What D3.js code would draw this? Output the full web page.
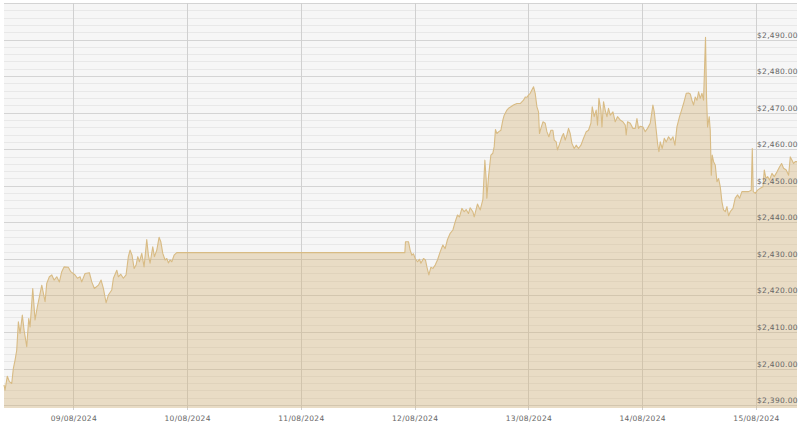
<!DOCTYPE html>
<html>
<head>
<meta charset="utf-8">
<script src="https://cdn.jsdelivr.net/npm/d3@7/dist/d3.min.js"></script>
<style>
  html, body { margin: 0; padding: 0; background: #ffffff; }
  svg { display: block; }
  .ylab text, .xlab text { font-family: "DejaVu Sans", Verdana, sans-serif; font-size: 7.5px; fill: #666; letter-spacing: 0.3px; }
</style>
</head>
<body>
<svg id="chart" width="800" height="428"></svg>
<script>
// ---- data (time of day, price in USD) per calendar day ----
const aug08 = [
  ["09:22",2395.5],["09:35",2394.1],["10:04",2397.9],["10:30",2396.4],["11:00",2395.9],
  ["11:20",2400.0],["11:42",2402.3],["12:03",2405.0],["12:24",2412.8],["12:45",2409.6],
  ["13:14",2414.6],["13:36",2410.5],["14:10",2406.0],["14:35",2413.7],["14:52",2411.4],
  ["15:26",2421.9],["15:55",2413.3],["16:24",2416.9],["16:50",2419.6],["17:20",2422.8],
  ["18:02",2418.3],["18:23",2423.3],["18:56",2425.1],["19:27",2425.6],["19:56",2424.2],
  ["20:30",2425.1],["21:03",2423.7],["21:33",2426.5],["22:02",2427.8],["22:57",2427.7],
  ["23:27",2426.5]
];
const aug09 = [
  ["00:22",2425.6],["00:51",2424.7],["01:25",2425.1],["01:46",2423.7],["02:28",2426.0],
  ["03:23",2426.2],["03:53",2423.7],["04:26",2421.9],["05:17",2422.8],["05:51",2424.2],
  ["06:20",2421.9],["06:54",2418.0],["07:23",2420.1],["08:06",2421.5],["08:27",2424.7],
  ["09:10",2426.9],["09:30",2425.1],["10:00",2425.8],["10:33",2424.7],["11:07",2425.6],
  ["11:36",2430.6],["11:58",2432.4],["12:23",2431.0],["12:49",2427.4],["13:14",2428.3],
  ["13:35",2430.6],["13:56",2429.2],["14:26",2431.5],["14:55",2427.8],["15:29",2435.3],
  ["15:50",2431.0],["16:11",2428.8],["16:45",2433.3],["17:06",2430.6],["17:36",2432.4],
  ["18:05",2435.9],["18:27",2434.7],["18:52",2431.5],["19:21",2429.7],["19:43",2430.1],
  ["20:03",2428.9],["20:24",2429.7],["20:46",2429.2],["21:15",2431.0],["21:49",2431.7]
];
const aug11 = [
  ["21:56",2431.7],["22:04",2434.7],["22:42",2434.7],["23:03",2432.4],["23:25",2431.0],
  ["23:45",2431.4]
];
const aug12 = [
  ["00:07",2430.1],["00:36",2429.2],["01:01",2429.9],["01:19",2428.8],["01:52",2430.1],
  ["02:17",2429.7],["02:35",2427.8],["03:00",2425.6],["03:25",2427.7],["03:51",2427.4],
  ["04:20",2428.3],["04:49",2429.7],["05:23",2431.9],["05:57",2433.8],["06:26",2432.8],
  ["06:56",2435.3],["07:30",2437.0],["08:04",2437.9],["08:33",2440.1],["09:02",2442.0],
  ["09:28",2441.5],["09:58",2443.8],["10:27",2442.9],["10:52",2443.5],["11:21",2442.4],
  ["11:43",2444.0],["12:17",2442.9],["12:34",2441.5],["13:15",2445.0],["13:50",2443.4],
  ["14:24",2446.3],["14:49",2457.0],["15:06",2451.6],["15:14",2446.6],["15:35",2452.5],
  ["16:05",2458.4],["16:30",2458.9],["16:47",2460.7],["17:03",2465.4],["17:21",2464.3],
  ["17:46",2464.8],["18:12",2465.2],["18:37",2468.0],["18:54",2469.3],["19:28",2470.7],
  ["19:48",2471.2],["20:18",2471.6],["20:51",2472.1],["21:34",2472.5],["22:16",2472.5],
  ["22:58",2473.4],["23:20",2474.3],["23:41",2474.2]
];
const aug13 = [
  ["00:01",2474.8],["00:23",2475.3],["00:44",2476.2],["01:05",2477.1],["01:26",2475.3],
  ["01:48",2471.6],["02:08",2470.2],["02:20",2464.3],["02:38",2465.7],["03:04",2467.5],
  ["03:33",2467.1],["03:54",2464.8],["04:19",2463.4],["04:45",2465.2],["05:10",2465.2],
  ["05:27",2462.5],["05:52",2462.0],["06:08",2459.8],["06:34",2461.4],["07:04",2463.4],
  ["07:24",2464.3],["07:46",2462.5],["08:07",2463.9],["08:28",2465.7],["08:49",2464.3],
  ["09:11",2461.6],["09:40",2460.2],["10:05",2461.1],["10:34",2460.2],["11:05",2461.1],
  ["11:38",2463.0],["12:12",2464.8],["12:41",2465.2],["13:11",2467.1],["13:28",2471.6],
  ["13:53",2468.9],["14:18",2470.7],["14:35",2466.6],["14:53",2473.9],["15:18",2470.7],
  ["15:31",2466.1],["15:51",2473.0],["16:12",2470.7],["16:34",2468.9],["16:54",2471.2],
  ["17:16",2469.3],["17:50",2470.2],["18:19",2467.5],["18:48",2468.9],["19:22",2468.0],
  ["19:56",2467.5],["20:26",2466.6],["20:38",2463.9],["20:55",2467.5],["21:29",2467.1],
  ["22:03",2465.7],["22:32",2465.7],["22:54",2468.4],["23:14",2465.7],["23:36",2466.3]
];
const aug14 = [
  ["00:10",2466.1],["00:39",2464.8],["01:08",2465.7],["01:42",2467.1],["02:16",2472.1],
  ["02:33",2470.2],["02:58",2465.2],["03:15",2461.6],["03:32",2459.3],["03:49",2462.0],
  ["04:14",2460.2],["04:40",2463.0],["05:05",2462.0],["05:34",2463.4],["06:04",2462.5],
  ["06:30",2463.4],["06:55",2461.1],["07:20",2466.1],["07:53",2468.9],["08:19",2470.7],
  ["08:44",2472.5],["09:18",2475.3],["09:47",2475.4],["10:09",2475.1],["10:30",2473.4],
  ["10:51",2472.1],["11:12",2474.3],["11:34",2473.4],["11:54",2475.7],["12:15",2473.9],
  ["12:37",2475.3],["12:57",2473.4],["13:22",2490.6],["13:35",2474.3],["13:48",2466.1],
  ["14:09",2468.9],["14:22",2465.2],["14:35",2452.9],["14:47",2458.4],["15:04",2456.6],
  ["15:25",2455.7],["15:47",2451.1],["16:07",2452.0],["16:29",2449.7],["16:50",2445.6],
  ["17:10",2443.4],["17:32",2442.9],["17:53",2444.3],["18:14",2441.8],["18:35",2442.9],
  ["19:09",2443.8],["19:38",2446.6],["20:08",2447.5],["20:33",2446.6],["21:03",2448.4],
  ["21:45",2448.4],["22:27",2448.4],["23:01",2448.8],["23:14",2460.2],["23:26",2448.4],
  ["23:52",2447.9]
];
const aug15 = [
  ["00:21",2448.8],["00:55",2449.3],["01:29",2449.7],["01:46",2454.3],["02:07",2452.0],
  ["02:28",2452.5],["02:53",2451.6],["03:23",2453.4],["03:52",2452.5],["04:27",2453.8],
  ["05:00",2455.2],["05:25",2456.1],["05:50",2454.8],["06:24",2454.3],["06:54",2452.9],
  ["07:15",2457.9],["07:37",2457.0],["07:57",2456.1],["08:18",2456.6],["08:40",2456.6]
];
const days = [
  ["2024-08-08", aug08], ["2024-08-09", aug09], ["2024-08-11", aug11], ["2024-08-12", aug12],
  ["2024-08-13", aug13], ["2024-08-14", aug14], ["2024-08-15", aug15]
];
const xTickDays = ["2024-08-09","2024-08-10","2024-08-11","2024-08-12","2024-08-13","2024-08-14","2024-08-15"];
const yLabelValues = [2390, 2400, 2410, 2420, 2430, 2440, 2450, 2460, 2470, 2480, 2490];
const yDomain = [2389.2, 2500];
const minorStep = 2;

(function () {
// ---- build series ----
const parse = d3.timeParse("%Y-%m-%d %H:%M");
const parseDay = d3.timeParse("%Y-%m-%d");
const data = [];
days.forEach(([day, rows]) => rows.forEach(([t, v]) => data.push({ date: parse(day + " " + t), price: v })));

const svg = d3.select("#chart");
const pL = 4, pR = 797, pT = 3, pB = 408;

const x = d3.scaleTime().domain(d3.extent(data, d => d.date)).range([pL, pR]);
const y = d3.scaleLinear().domain(yDomain).range([pB, pT]);

// background
svg.append("rect").attr("x", pL).attr("y", pT).attr("width", pR - pL).attr("height", pB - pT)
  .attr("fill", "#f6f6f6");

// horizontal grid
const gridVals = d3.range(2390, 2500.001, minorStep);
svg.append("g").selectAll("line").data(gridVals).join("line")
  .attr("x1", pL).attr("x2", pR)
  .attr("y1", d => Math.round(y(d)) + 0.5).attr("y2", d => Math.round(y(d)) + 0.5)
  .attr("stroke", d => (Math.round(d) % 10 === 0) ? "#d4d4d4" : "#e8e8e8")
  .attr("stroke-width", 1);

// vertical grid
const tickDates = xTickDays.map(parseDay);
svg.append("g").selectAll("line").data(tickDates).join("line")
  .attr("x1", d => Math.round(x(d)) + 0.5).attr("x2", d => Math.round(x(d)) + 0.5)
  .attr("y1", pT).attr("y2", pB + 2)
  .attr("stroke", "#d0d0d0").attr("stroke-width", 1);

// area + line
const area = d3.area().x(d => x(d.date)).y0(pB).y1(d => y(d.price));
const line = d3.line().x(d => x(d.date)).y(d => y(d.price));
svg.append("path").datum(data).attr("d", area)
  .attr("fill", "rgb(210,175,110)").attr("fill-opacity", 0.36);
svg.append("path").datum(data).attr("d", line)
  .attr("fill", "none").attr("stroke", "#d8bb84").attr("stroke-width", 1.1)
  .attr("stroke-linejoin", "round");

// y labels (right side, sitting above their gridline)
const yAxis = d3.axisRight(y).tickValues(yLabelValues).tickFormat(d3.format("$,.2f")).tickSize(0).tickPadding(0);
const gy = svg.append("g").attr("class", "ylab").attr("transform", "translate(757,0)").call(yAxis);
gy.select(".domain").remove();
gy.selectAll("text").attr("dy", "-2.5px").attr("x", 0);

// x labels
const xAxis = d3.axisBottom(x).tickValues(tickDates).tickFormat(d3.timeFormat("%d/%m/%Y")).tickSize(0).tickPadding(0);
const gx = svg.append("g").attr("class", "xlab").attr("transform", "translate(0,416)").call(xAxis);
gx.select(".domain").remove();
gx.selectAll("text").attr("dy", "0.7em");
})();
</script>
</body>
</html>
